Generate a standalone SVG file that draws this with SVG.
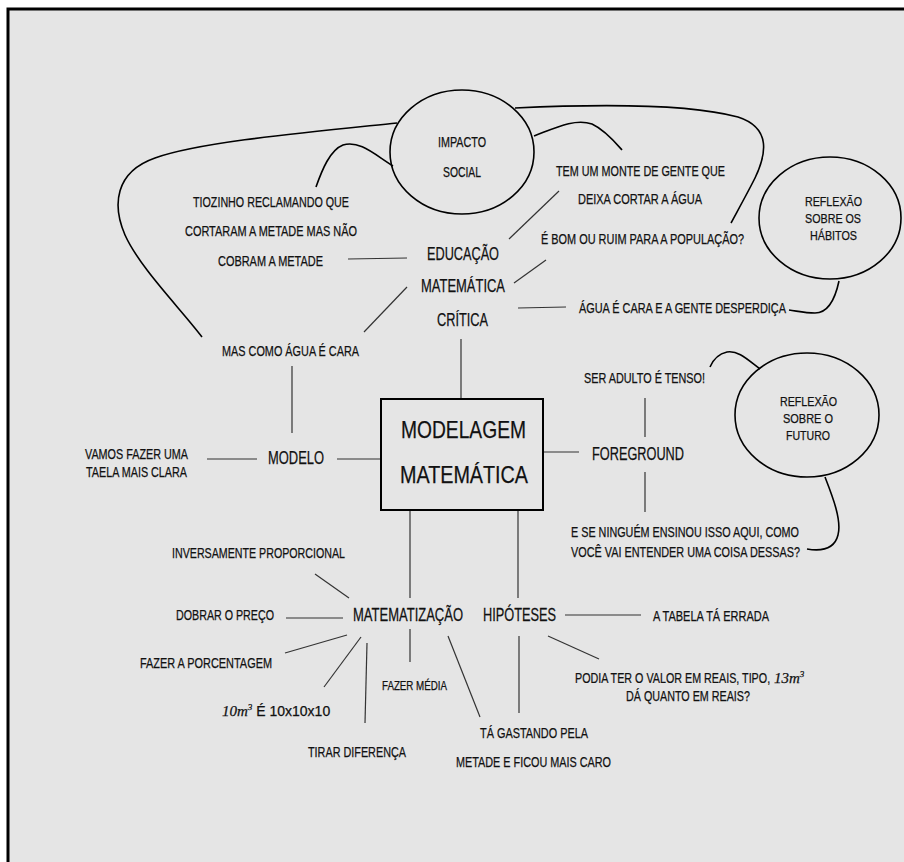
<svg xmlns="http://www.w3.org/2000/svg" width="904" height="862" viewBox="0 0 904 862">
<style>
  text { font-family: "Liberation Sans", Arial, sans-serif; fill: #111; stroke: #111; stroke-width: 0.25; }
  .s { font-size: 14px; }
  .m { font-size: 18px; }
  .l { font-size: 24px; }
  .e { font-size: 13px; }
  .math { font-family: "Liberation Serif", "Times New Roman", serif; font-style: italic; }
  .conn line { stroke: #333; stroke-width: 1.2; }
  .curve { fill: none; stroke: #000; stroke-width: 1.6; }
  .bubble { fill: none; stroke: #000; stroke-width: 1.6; }
</style>
<rect x="0" y="0" width="904" height="862" fill="#fff"/>
<rect x="8" y="9" width="910" height="880" fill="#e5e5e5" stroke="#000" stroke-width="3"/>

<g id="connectors" class="conn">
  <line x1="348" y1="259" x2="407" y2="258"/>
  <line x1="509" y1="239" x2="559" y2="191"/>
  <line x1="514" y1="283" x2="546" y2="260"/>
  <line x1="518" y1="308" x2="566" y2="307"/>
  <line x1="407" y1="287" x2="364" y2="332"/>
  <line x1="461" y1="339" x2="461" y2="398"/>
  <line x1="292" y1="366" x2="292" y2="433"/>
  <line x1="207" y1="459" x2="257" y2="459"/>
  <line x1="337" y1="459" x2="382" y2="459"/>
  <line x1="543" y1="452" x2="579" y2="452"/>
  <line x1="645" y1="398" x2="645" y2="437"/>
  <line x1="645" y1="472" x2="645" y2="512"/>
  <line x1="410" y1="510" x2="410" y2="598"/>
  <line x1="518" y1="510" x2="518" y2="598"/>
  <line x1="315" y1="574" x2="349" y2="598"/>
  <line x1="286" y1="618" x2="343" y2="618"/>
  <line x1="285" y1="653" x2="347" y2="635"/>
  <line x1="324" y1="687" x2="361" y2="637"/>
  <line x1="367" y1="643" x2="365" y2="723"/>
  <line x1="410" y1="629" x2="410" y2="662"/>
  <line x1="448" y1="636" x2="480" y2="717"/>
  <line x1="565" y1="615" x2="641" y2="615"/>
  <line x1="548" y1="636" x2="599" y2="659"/>
  <line x1="519" y1="636" x2="519" y2="713"/>
  <path class="curve" d="M 397 123 C 300 133, 200 142, 155 158 C 115 172, 112 205, 125 235 C 140 268, 180 308, 202 337"/>
  <path class="curve" d="M 393 166 C 375 155, 360 140, 343 145 C 330 150, 322 170, 316 187"/>
  <path class="curve" d="M 534 136 C 555 128, 575 118, 592 124 C 605 130, 615 142, 622 150"/>
  <path class="curve" d="M 515 108 C 600 104, 690 104, 738 117 C 772 128, 766 155, 755 178 C 748 192, 738 210, 731 223"/>
  <path class="curve" d="M 839 281 C 836 295, 830 313, 815 313 C 805 313, 797 311, 789 310"/>
  <path class="curve" d="M 760 369 C 748 360, 738 350, 727 352 C 718 354, 713 360, 710 367"/>
  <path class="curve" d="M 825 477 C 832 495, 842 520, 838 535 C 835 547, 825 552, 807 549"/>
</g>

<g id="impacto-social">
  <ellipse class="bubble" cx="462" cy="152" rx="72" ry="62"/>
  <text class="s" x="438" y="147" textLength="48" lengthAdjust="spacingAndGlyphs">IMPACTO</text>
  <text class="s" x="443" y="177" textLength="38" lengthAdjust="spacingAndGlyphs">SOCIAL</text>
</g>

<g id="tiozinho">
  <text class="s" x="193" y="207" textLength="156" lengthAdjust="spacingAndGlyphs">TIOZINHO RECLAMANDO QUE</text>
  <text class="s" x="185" y="236" textLength="172" lengthAdjust="spacingAndGlyphs">CORTARAM A METADE MAS NÃO</text>
  <text class="s" x="218" y="266" textLength="105" lengthAdjust="spacingAndGlyphs">COBRAM A METADE</text>
</g>

<g id="tem-um-monte">
  <text class="s" x="556" y="176" textLength="169" lengthAdjust="spacingAndGlyphs">TEM UM MONTE DE GENTE QUE</text>
  <text class="s" x="578" y="204" textLength="124" lengthAdjust="spacingAndGlyphs">DEIXA CORTAR A ÁGUA</text>
</g>

<g id="bom-ou-ruim">
  <text class="s" x="541" y="244" textLength="203" lengthAdjust="spacingAndGlyphs">É BOM OU RUIM PARA A POPULAÇÃO?</text>
</g>

<g id="educacao-matematica-critica">
  <text class="m" x="427" y="260" textLength="72" lengthAdjust="spacingAndGlyphs">EDUCAÇÃO</text>
  <text class="m" x="421" y="292" textLength="84" lengthAdjust="spacingAndGlyphs">MATEMÁTICA</text>
  <text class="m" x="437" y="326" textLength="51" lengthAdjust="spacingAndGlyphs">CRÍTICA</text>
</g>

<g id="agua-cara-desperdica">
  <text class="s" x="579" y="313" textLength="207" lengthAdjust="spacingAndGlyphs">ÁGUA É CARA E A GENTE DESPERDIÇA</text>
</g>

<g id="reflexao-habitos">
  <ellipse class="bubble" cx="830" cy="218" rx="71" ry="61"/>
  <text class="e" x="805" y="206" textLength="57" lengthAdjust="spacingAndGlyphs">REFLEXÃO</text>
  <text class="e" x="805" y="223" textLength="56" lengthAdjust="spacingAndGlyphs">SOBRE OS</text>
  <text class="e" x="810" y="240" textLength="47" lengthAdjust="spacingAndGlyphs">HÁBITOS</text>
</g>

<g id="mas-como-agua">
  <text class="s" x="222" y="356" textLength="137" lengthAdjust="spacingAndGlyphs">MAS COMO ÁGUA É CARA</text>
</g>

<g id="vamos-fazer">
  <text class="s" x="85" y="459" textLength="103" lengthAdjust="spacingAndGlyphs">VAMOS FAZER UMA</text>
  <text class="s" x="86" y="477" textLength="101" lengthAdjust="spacingAndGlyphs">TAELA MAIS CLARA</text>
</g>

<g id="modelo">
  <text class="m" x="268" y="464" textLength="56" lengthAdjust="spacingAndGlyphs">MODELO</text>
</g>

<g id="modelagem-matematica">
  <rect x="381" y="399" width="162" height="111" fill="none" stroke="#000" stroke-width="2"/>
  <text class="l" x="401" y="438" textLength="125" lengthAdjust="spacingAndGlyphs">MODELAGEM</text>
  <text class="l" x="400" y="483" textLength="128" lengthAdjust="spacingAndGlyphs">MATEMÁTICA</text>
</g>

<g id="foreground">
  <text class="m" x="592" y="460" textLength="92" lengthAdjust="spacingAndGlyphs">FOREGROUND</text>
</g>

<g id="ser-adulto">
  <text class="s" x="584" y="383" textLength="121" lengthAdjust="spacingAndGlyphs">SER ADULTO É TENSO!</text>
</g>

<g id="e-se-ninguem">
  <text class="s" x="571" y="537" textLength="228" lengthAdjust="spacingAndGlyphs">E SE NINGUÉM ENSINOU ISSO AQUI, COMO</text>
  <text class="s" x="571" y="557" textLength="229" lengthAdjust="spacingAndGlyphs">VOCÊ VAI ENTENDER UMA COISA DESSAS?</text>
</g>

<g id="reflexao-futuro">
  <ellipse class="bubble" cx="807" cy="415" rx="72" ry="62"/>
  <text class="e" x="780" y="406" textLength="57" lengthAdjust="spacingAndGlyphs">REFLEXÃO</text>
  <text class="e" x="783" y="423" textLength="50" lengthAdjust="spacingAndGlyphs">SOBRE O</text>
  <text class="e" x="786" y="440" textLength="44" lengthAdjust="spacingAndGlyphs">FUTURO</text>
</g>

<g id="matematizacao">
  <text class="m" transform="translate(353,621) scale(0.71,1)" x="0" y="0" textLength="155" lengthAdjust="spacingAndGlyphs">MATEMATIZAÇÃO</text>
</g>

<g id="inversamente">
  <text class="s" x="172" y="558" textLength="173" lengthAdjust="spacingAndGlyphs">INVERSAMENTE PROPORCIONAL</text>
</g>

<g id="dobrar-preco">
  <text class="s" x="176" y="620" textLength="98" lengthAdjust="spacingAndGlyphs">DOBRAR O PREÇO</text>
</g>

<g id="fazer-porcentagem">
  <text class="s" x="140" y="668" textLength="132" lengthAdjust="spacingAndGlyphs">FAZER A PORCENTAGEM</text>
</g>

<g id="dez-m3">
  <text x="222" y="716" font-size="14"><tspan class="math" font-size="15">10m</tspan><tspan class="math" font-size="9" dy="-6">3</tspan><tspan dy="6"> É 10x10x10</tspan></text>
</g>

<g id="tirar-diferenca">
  <text class="s" x="308" y="757" textLength="98" lengthAdjust="spacingAndGlyphs">TIRAR DIFERENÇA</text>
</g>

<g id="fazer-media">
  <text class="e" x="382" y="690" textLength="65" lengthAdjust="spacingAndGlyphs">FAZER MÉDIA</text>
</g>

<g id="ta-gastando">
  <text class="s" x="480" y="738" textLength="108" lengthAdjust="spacingAndGlyphs">TÁ GASTANDO PELA</text>
  <text class="s" x="456" y="767" textLength="155" lengthAdjust="spacingAndGlyphs">METADE E FICOU MAIS CARO</text>
</g>

<g id="hipoteses">
  <text class="m" transform="translate(483,621) scale(0.71,1)" x="0" y="0" textLength="103" lengthAdjust="spacingAndGlyphs">HIPÓTESES</text>
</g>

<g id="tabela-errada">
  <text class="s" x="653" y="621" textLength="116" lengthAdjust="spacingAndGlyphs">A TABELA TÁ ERRADA</text>
</g>

<g id="podia-ter">
  <text class="s" transform="translate(575,683) scale(0.72,1)" x="0" y="0" textLength="271" lengthAdjust="spacingAndGlyphs">PODIA TER O VALOR EM REAIS, TIPO,</text>
  <text x="774" y="683" font-size="15"><tspan class="math">13m</tspan><tspan class="math" font-size="9" dy="-6">3</tspan></text>
  <text class="s" x="626" y="701" textLength="124" lengthAdjust="spacingAndGlyphs">DÁ QUANTO EM REAIS?</text>
</g>
</svg>
